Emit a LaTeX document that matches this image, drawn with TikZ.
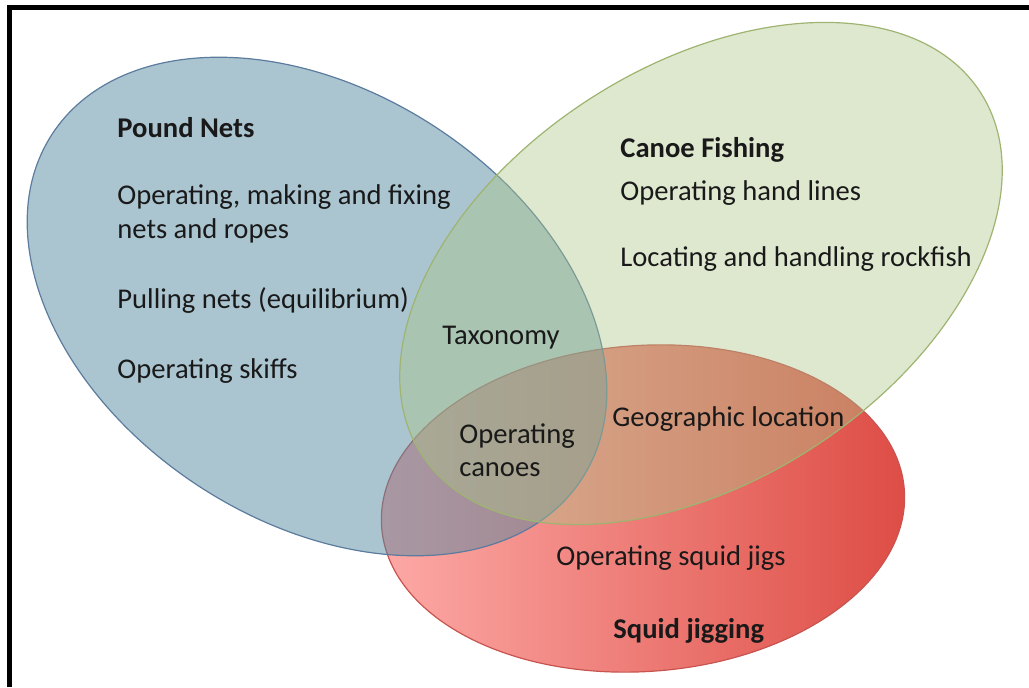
\documentclass[tikz,border=0pt]{standalone}
\usepackage{fontspec}
\setmainfont{Carlito}
\definecolor{netblue}{RGB}{85,137,161}
\definecolor{netedge}{RGB}{92,124,158}
\definecolor{canoegreen}{RGB}{172,198,135}
\definecolor{canoeedge}{RGB}{158,180,112}
\definecolor{squidlight}{RGB}{253,170,167}
\definecolor{squiddark}{RGB}{221,76,68}
\definecolor{squidedge}{RGB}{200,84,80}
\definecolor{txt}{RGB}{25,25,25}
\tikzset{
  item/.style={anchor=base west, inner sep=0pt, align=left, text=txt,
    font=\fontsize{14.3}{16.5}\selectfont},
  heading/.style={item, font=\fontsize{14.3}{16.5}\selectfont\bfseries}
}
\begin{document}
\begin{tikzpicture}[x=0.5pt,y=0.5pt]
        \useasboundingbox (0,0) rectangle (1029,687);
        % Squid jigging (unten)
        \shade[left color=squidlight, right color=squiddark,
            rotate around={4:(643,178.5)}]
            (643,178.5) ellipse [x radius=262, y radius=163];
        \draw[squidedge, line width=0.6pt, rotate around={4:(643,178.5)}]
            (643,178.5) ellipse [x radius=262, y radius=163];
        
        % Pound Nets
        \fill[netblue, fill opacity=0.5, rotate around={-33:(317,380.5)}]
            (317,380.5) ellipse [x radius=316, y radius=215];
        \draw[netedge, line width=0.6pt, rotate around={-33:(317,380.5)}]
            (317,380.5) ellipse [x radius=316, y radius=215];
        
        % Canoe Fishing
        \fill[canoegreen, fill opacity=0.4, rotate around={33:(701,413.5)}]
            (701,413.5) ellipse [x radius=333, y radius=207];
        \draw[canoeedge, line width=0.6pt, rotate around={33:(701,413.5)}]
            (701,413.5) ellipse [x radius=333, y radius=207];
        
        % Rahmen
        \draw[line width=2.6pt, line join=miter] (9.5,0) -- (9.5,679.5) -- (1029,679.5);
        
        % Texte
        \node[heading] (pound) at (117,549) {Pound Nets};
        \node[item] (pound1) at (117,449) {Operating, making and fixing\\nets and ropes};
        \node[item] (pound2) at (117,379) {Pulling nets (equilibrium)};
        \node[item] (pound3) at (117,309) {Operating skiffs};
        
        \node[heading] (canoe) at (620,529) {Canoe Fishing};
        \node[item] (canoe1) at (620,487) {Operating hand lines};
        \node[item] (canoe2) at (620,421) {Locating and handling rockfish};
        
        \node[item] (taxo) at (442,343) {Taxonomy};
        \node[item] (geo) at (612,261) {Geographic location};
        \node[item] (opcan) at (459,211) {Operating\\canoes};
        
        \node[item] (squid1) at (556,122) {Operating squid jigs};
        \node[heading] (squid) at (613,49) {Squid jigging};
    \end{tikzpicture}
\end{document}
